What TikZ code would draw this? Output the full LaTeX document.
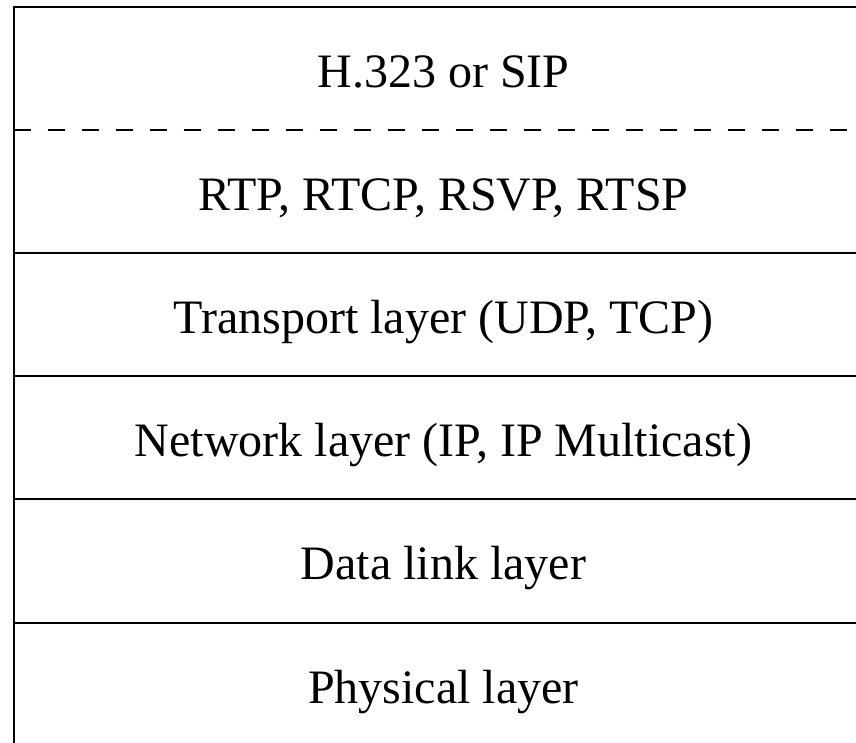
\documentclass[tikz,border=0pt]{standalone}
\usepackage{fontspec}
\setmainfont{Liberation Serif}
\begin{document}
\begin{tikzpicture}[
    x=1pt, y=1pt,
    layer/.style = { font=\fontsize{48}{56}\selectfont, inner sep=0pt, anchor=base },
    sep/.style = { line width=2pt },
    softsep/.style = { sep, dashed, dash pattern=on 17pt off 17pt }
    ]
\useasboundingbox (0,0) rectangle (856,743);
\node[layer] (H323) at (443.5,655) {H.323 or SIP};
\node[layer] (RTP) at (443.5,532) {RTP, RTCP, RSVP, RTSP};
\node[layer] (TL) at (443.5,409) {Transport layer (UDP, TCP)};
\node[layer] (NL) at (443.5,286) {Network layer (IP, IP Multicast)};
\node[layer] (DLL) at (443.5,163) {Data link layer};
\node[layer] (PL) at (443.5,39) {Physical layer};
%
\draw[sep] (13.5,-3) rectangle (873.5,736);
\draw[softsep] (13.5,613) -- (873.5,613);
\foreach \Level in {490,367,244,120}
\draw[sep] (13.5,\Level) -- (873.5,\Level);
\end{tikzpicture}
\end{document}
